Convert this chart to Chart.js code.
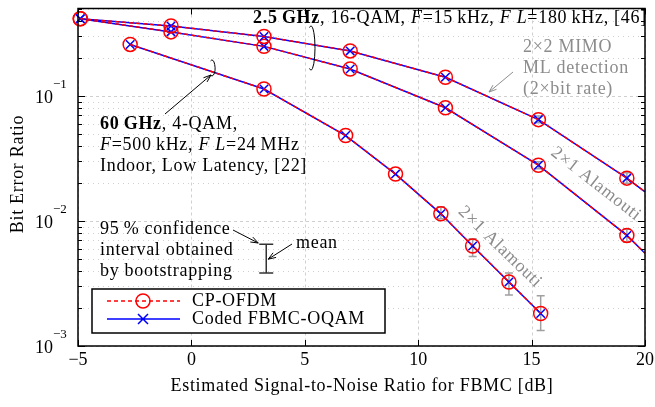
<!DOCTYPE html>
<html>
<head>
<meta charset="utf-8">
<script src="https://cdn.jsdelivr.net/npm/chart.js@4.4.1/dist/chart.umd.min.js"></script>
<style>html,body{margin:0;padding:0;background:#fff}</style>
</head>
<body>
<canvas id="myChart" width="655" height="407"></canvas>
<script>
// 2.5 GHz, 2x2 MIMO (upper curve)
const snrMimo = [-4.9, -0.9, 3.2, 7.0, 11.2, 15.3, 19.2, 20];
const berMimo = [0.414, 0.362, 0.299, 0.229, 0.141, 0.0646, 0.0220, 0.0171];
const ciMimoLow = [null, null, null, null, null, 0.061, 0.0200, null];
const ciMimoHigh = [null, null, null, null, null, 0.069, 0.0243, null];

// 2.5 GHz, 2x1 Alamouti (middle curve)
const snrAlam = [-4.9, -0.9, 3.2, 7.0, 11.2, 15.3, 19.2, 20];
const berAlam = [0.414, 0.325, 0.249, 0.164, 0.0804, 0.0279, 0.00766, 0.00552];
const ciAlamLow = [null, null, null, null, null, 0.0262, 0.0068, null];
const ciAlamHigh = [null, null, null, null, null, 0.0298, 0.0086, null];

// 60 GHz, 2x1 Alamouti (lower curve)
const snr60 = [-2.7, 3.2, 6.8, 9.0, 11.0, 12.4, 14.0, 15.4];
const ber60 = [0.258, 0.1135, 0.0482, 0.0237, 0.0114, 0.0063, 0.00325, 0.00182];
const ci60Low = [null, null, null, null, 0.0104, 0.0052, 0.00256, 0.00133];
const ci60High = [null, null, null, null, 0.0130, 0.0072, 0.00383, 0.00252];

// example error bar in the annotation
const exampleSnr = 3.3;
const exampleCi = [0.00383, 0.00504, 0.0065];

const xTicks = [-5, 0, 5, 10, 15, 20];
const yDecades = [-3, -2, -1];

const RED = '#ff0000', BLUE = '#0000ff', GRAY = '#8c8c8c';
const SERIF = '"Liberation Serif", "Times New Roman", serif';

const pts = (xs, ys) => xs.map((x, i) => ({x: x, y: ys[i]}));
const radii = (xs, r) => xs.map(x => x >= 20 ? 0 : r);

function ofdm(xs, ys) {
  return {
    label: 'CP-OFDM', data: pts(xs, ys),
    borderColor: RED, borderWidth: 1.5, borderDash: [4, 3],
    pointStyle: 'circle', pointRadius: radii(xs, 7), pointBorderColor: RED,
    pointBackgroundColor: 'rgba(0,0,0,0)', pointBorderWidth: 1.5,
    fill: false, clip: false
  };
}
function fbmc(xs, ys) {
  return {
    label: 'Coded FBMC-OQAM', data: pts(xs, ys),
    borderColor: BLUE, borderWidth: 1.5,
    pointStyle: 'crossRot', pointRadius: radii(xs, 6), pointBorderColor: BLUE,
    pointBorderWidth: 1.5, fill: false, clip: false
  };
}

function setFont(ctx, style, size) {
  ctx.font = style + size + 'px ' + SERIF;
  ctx.letterSpacing = size >= 16 ? '0.7px' : '0px';
}

function arrow(ctx, x1, y1, x2, y2, color) {
  const a = Math.atan2(y2 - y1, x2 - x1), L = 8;
  ctx.strokeStyle = color; ctx.lineWidth = 1;
  ctx.beginPath(); ctx.moveTo(x1, y1); ctx.lineTo(x2, y2);
  ctx.moveTo(x2 - L * Math.cos(a - 0.35), y2 - L * Math.sin(a - 0.35));
  ctx.lineTo(x2, y2);
  ctx.lineTo(x2 - L * Math.cos(a + 0.35), y2 - L * Math.sin(a + 0.35));
  ctx.stroke();
}

function rich(ctx, x, y, parts, size, color) {
  ctx.fillStyle = color; ctx.textAlign = 'left'; ctx.textBaseline = 'middle';
  parts.forEach(p => {
    const st = p[1] === 'b' ? 'bold ' : p[1] === 'i' ? 'italic ' : '';
    setFont(ctx, st, size);
    ctx.fillText(p[0], x, y);
    x += ctx.measureText(p[0]).width;
  });
}

function errBars(ctx, xs, lo, hi, sx, sy, color, cap) {
  ctx.strokeStyle = color; ctx.lineWidth = 1.5;
  xs.forEach((x, i) => {
    if (lo[i] == null) return;
    const px = sx.getPixelForValue(x), y1 = sy.getPixelForValue(lo[i]), y2 = sy.getPixelForValue(hi[i]);
    ctx.beginPath();
    ctx.moveTo(px, y1); ctx.lineTo(px, y2);
    ctx.moveTo(px - cap, y1); ctx.lineTo(px + cap, y1);
    ctx.moveTo(px - cap, y2); ctx.lineTo(px + cap, y2);
    ctx.stroke();
  });
}

const decor = {
  id: 'decor',
  beforeDatasetsDraw(chart) {
    const ctx = chart.ctx, a = chart.chartArea, sx = chart.scales.x, sy = chart.scales.y;
    ctx.save();
    ctx.strokeStyle = '#d0d0d0'; ctx.lineWidth = 1;
    // minor horizontal grid (dotted)
    ctx.setLineDash([1, 4]);
    yDecades.forEach(e => {
      for (let m = 2; m <= 9; m++) {
        const v = m * Math.pow(10, e);
        if (v > sy.max) continue;
        const py = Math.round(sy.getPixelForValue(v)) + 0.5;
        ctx.beginPath(); ctx.moveTo(a.left, py); ctx.lineTo(a.right, py); ctx.stroke();
      }
    });
    // major grid (dashed)
    ctx.setLineDash([3, 3]);
    yDecades.forEach(e => {
      const py = Math.round(sy.getPixelForValue(Math.pow(10, e))) + 0.5;
      ctx.beginPath(); ctx.moveTo(a.left, py); ctx.lineTo(a.right, py); ctx.stroke();
    });
    xTicks.forEach(t => {
      const px = Math.round(sx.getPixelForValue(t)) + 0.5;
      ctx.beginPath(); ctx.moveTo(px, a.top); ctx.lineTo(px, a.bottom); ctx.stroke();
    });
    ctx.setLineDash([]);
    errBars(ctx, snrMimo, ciMimoLow, ciMimoHigh, sx, sy, '#a0a0a0', 4);
    errBars(ctx, snrAlam, ciAlamLow, ciAlamHigh, sx, sy, '#a0a0a0', 4);
    errBars(ctx, snr60, ci60Low, ci60High, sx, sy, '#a0a0a0', 4);
    ctx.restore();
  },
  afterDatasetsDraw(chart) {
    const ctx = chart.ctx, a = chart.chartArea, sx = chart.scales.x, sy = chart.scales.y;
    ctx.save();
    // frame and inward ticks
    ctx.strokeStyle = '#000'; ctx.lineWidth = 1.5;
    ctx.strokeRect(a.left, a.top, a.right - a.left, a.bottom - a.top);
    ctx.lineWidth = 1;
    ctx.beginPath();
    xTicks.forEach(t => {
      const px = Math.round(sx.getPixelForValue(t)) + 0.5;
      ctx.moveTo(px, a.bottom); ctx.lineTo(px, a.bottom - 6);
      ctx.moveTo(px, a.top); ctx.lineTo(px, a.top + 6);
    });
    yDecades.forEach(e => {
      for (let m = 1; m <= 9; m++) {
        const v = m * Math.pow(10, e);
        if (v > sy.max) continue;
        const py = Math.round(sy.getPixelForValue(v)) + 0.5, L = m === 1 ? 7 : 4;
        ctx.moveTo(a.left, py); ctx.lineTo(a.left + L, py);
        ctx.moveTo(a.right, py); ctx.lineTo(a.right - L, py);
      }
    });
    ctx.stroke();

    // tick labels
    ctx.fillStyle = '#000'; ctx.textBaseline = 'middle';
    setFont(ctx, '', 18); ctx.letterSpacing = '0px'; ctx.textAlign = 'center';
    xTicks.forEach(t => {
      ctx.fillText(String(t).replace('-', '\u2212'), sx.getPixelForValue(t), a.bottom + 14);
    });
    yDecades.forEach(e => {
      const py = sy.getPixelForValue(Math.pow(10, e));
      setFont(ctx, '', 18); ctx.letterSpacing = '0px'; ctx.textAlign = 'right';
      ctx.fillText('10', a.left - 25, py + 2);
      setFont(ctx, '', 13); ctx.textAlign = 'left';
      ctx.fillText('\u2212' + (-e), a.left - 25, py - 11);
    });

    // axis titles
    setFont(ctx, '', 18); ctx.textAlign = 'center';
    ctx.fillText('Estimated Signal-to-Noise Ratio for FBMC [dB]', 362, a.bottom + 40);
    ctx.save();
    ctx.translate(18, 174);
    ctx.rotate(-Math.PI / 2);
    ctx.fillText('Bit Error Ratio', 0, 0);
    ctx.restore();

    // example error bar
    const ex = sx.getPixelForValue(exampleSnr);
    errBars(ctx, [exampleSnr], [exampleCi[0]], [exampleCi[2]], sx, sy, '#333', 7);
    const em = sy.getPixelForValue(exampleCi[1]);

    // annotations
    const S = 18;
    rich(ctx, 253, 18, [['2.5\u2009GHz', 'b'], [', 16-QAM, ', ''], ['F', 'i'], ['=15\u2009kHz, ', ''], ['F L', 'i'], ['=180\u2009kHz, [46]', '']], S, '#000');
    rich(ctx, 100, 124, [['60\u2009GHz', 'b'], [', 4-QAM,', '']], S, '#000');
    rich(ctx, 100, 145, [['F', 'i'], ['=500\u2009kHz, ', ''], ['F L', 'i'], ['=24\u2009MHz', '']], S, '#000');
    rich(ctx, 100, 166, [['Indoor, Low Latency, [22]', '']], S, '#000');
    rich(ctx, 100, 229, [['95\u2009% confidence', '']], S, '#000');
    rich(ctx, 100, 250, [['interval obtained', '']], S, '#000');
    rich(ctx, 100, 271, [['by bootstrapping', '']], S, '#000');
    rich(ctx, 296, 243, [['mean', '']], S, '#000');
    arrow(ctx, 233, 230, ex - 8, 243, '#000');
    arrow(ctx, 292, 244, ex + 2, em + 1, '#000');
    arrow(ctx, 165, 114, 211, 75, '#000');

    rich(ctx, 523, 47, [['2\u00d72 MIMO', '']], S, GRAY);
    rich(ctx, 523, 68, [['ML detection', '']], S, GRAY);
    rich(ctx, 523, 89, [['(2\u00d7bit rate)', '']], S, GRAY);
    arrow(ctx, 513, 72, 489, 92, GRAY);

    // bracket ellipses
    ctx.strokeStyle = '#000'; ctx.lineWidth = 1;
    ctx.beginPath(); ctx.ellipse(311, 48, 4, 22, 0, -Math.PI * 0.62, Math.PI * 0.62); ctx.stroke();
    ctx.beginPath(); ctx.ellipse(212, 68, 3, 8, 0, -Math.PI * 0.65, Math.PI * 0.65); ctx.stroke();

    // rotated Alamouti labels
    [[596, 184, 38], [500, 247, 44]].forEach(r => {
      ctx.save();
      ctx.translate(r[0], r[1]); ctx.rotate(r[2] * Math.PI / 180);
      setFont(ctx, '', S); ctx.fillStyle = GRAY; ctx.textAlign = 'center'; ctx.textBaseline = 'middle';
      ctx.fillText('2\u00d71 Alamouti', 0, 0);
      ctx.restore();
    });

    // legend
    ctx.fillStyle = '#fff'; ctx.fillRect(92, 289, 293, 44);
    ctx.strokeStyle = '#000'; ctx.lineWidth = 1.5; ctx.strokeRect(92, 289, 293, 44);
    ctx.strokeStyle = RED; ctx.setLineDash([4, 3]);
    ctx.beginPath(); ctx.moveTo(107, 301); ctx.lineTo(180, 301); ctx.stroke();
    ctx.setLineDash([]);
    ctx.beginPath(); ctx.arc(143, 301, 7, 0, Math.PI * 2); ctx.stroke();
    ctx.strokeStyle = BLUE;
    ctx.beginPath(); ctx.moveTo(107, 319); ctx.lineTo(180, 319);
    ctx.moveTo(138, 314); ctx.lineTo(148, 324); ctx.moveTo(148, 314); ctx.lineTo(138, 324);
    ctx.stroke();
    rich(ctx, 192, 301, [['CP-OFDM', '']], S, '#000');
    rich(ctx, 192, 319, [['Coded FBMC-OQAM', '']], S, '#000');
    ctx.restore();
  }
};

const config = {
  type: 'line',
  data: {
    datasets: [
      ofdm(snrMimo, berMimo), fbmc(snrMimo, berMimo),
      ofdm(snrAlam, berAlam), fbmc(snrAlam, berAlam),
      ofdm(snr60, ber60), fbmc(snr60, ber60)
    ]
  },
  options: {
    responsive: false,
    animation: false,
    layout: { padding: { left: 78, right: 10, top: 5, bottom: 61 } },
    scales: {
      x: { type: 'linear', min: -5, max: 20, display: false },
      y: { type: 'logarithmic', min: 0.001, max: 0.5, display: false }
    },
    plugins: { legend: { display: false }, tooltip: { enabled: false } }
  },
  plugins: [decor]
};

const ctx = document.getElementById('myChart').getContext('2d');
const myChart = new Chart(ctx, config);
</script>
</body>
</html>
